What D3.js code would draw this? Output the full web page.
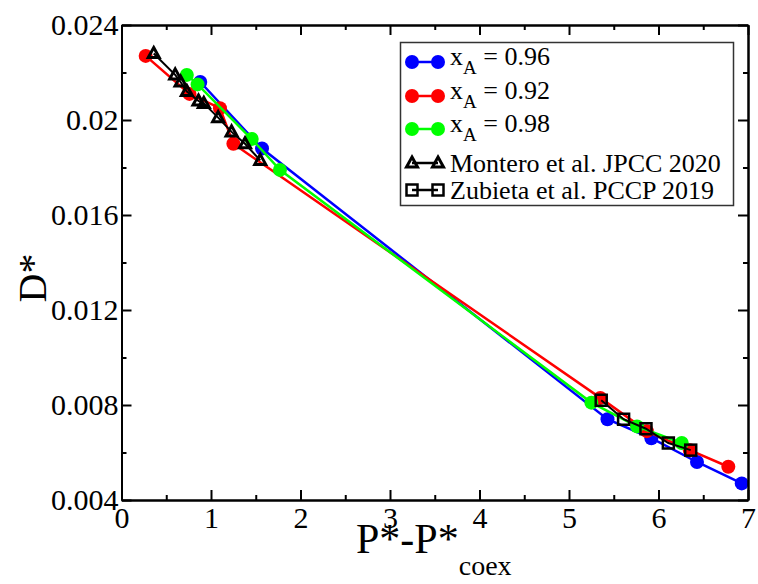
<!DOCTYPE html>
<html>
<head>
<meta charset="utf-8">
<script src="https://cdn.jsdelivr.net/npm/d3@7"></script>
<style>
  body { margin: 0; background: #fff; }
  svg text { font-family: "Liberation Serif", serif; fill: #000; }
</style>
</head>
<body>
<svg class="graphic"></svg>
<script>
// series
var blueX = [0.88, 1.57, 5.43, 5.92, 6.43, 6.93],
    blueY = [0.0216, 0.0188, 0.0074, 0.0066, 0.0056, 0.0047];
var redX = [0.27, 0.76, 1.10, 1.25, 5.35, 5.87, 6.35, 6.78],
    redY = [0.0227, 0.0211, 0.0205, 0.0190, 0.0083, 0.0069, 0.0061, 0.0054];
var greenX = [0.73, 0.85, 1.455, 1.77, 5.25, 5.76, 6.26],
    greenY = [0.0219, 0.0215, 0.0192, 0.0179, 0.0081, 0.0071, 0.0064];
var monteroX = [0.36, 0.60, 0.66, 0.73, 0.86, 0.92, 1.08, 1.23, 1.38, 1.55],
    monteroY = [0.0228, 0.0219, 0.0216, 0.0212, 0.0208, 0.0207, 0.0201, 0.0195, 0.0190, 0.0183];
var zubietaX = [5.36, 5.61, 5.86, 6.11, 6.36],
    zubietaY = [0.0082, 0.0074, 0.0070, 0.0064, 0.0061];

var xTicks = [0, 1, 2, 3, 4, 5, 6, 7],
    yTicks = [0.004, 0.008, 0.012, 0.016, 0.02, 0.024],
    yTickLabels = ["0.004", "0.008", "0.012", "0.016", "0.02", "0.024"];

var legendLabels = [
  {main: "x", sub: "A", rest: " = 0.96"},
  {main: "x", sub: "A", rest: " = 0.92"},
  {main: "x", sub: "A", rest: " = 0.98"},
  {main: "Montero et al. JPCC 2020"},
  {main: "Zubieta et al. PCCP 2019"}
];

var width = 758, height = 584;
var plot = {left: 121.5, right: 748, top: 25, bottom: 500};
var serif = "'Liberation Serif', serif";

var svg = d3.select(".graphic").attr("width", width).attr("height", height);

var x = d3.scaleLinear().domain([0, 7]).range([plot.left, plot.right]);
var y = d3.scaleLinear().domain([0.004, 0.024]).range([plot.bottom, plot.top]);

function pairs(xs, ys) { return xs.map(function(v, i) { return [v, ys[i]]; }); }

var series = [
  {pts: pairs(blueX, blueY), colour: "#0000ff", mark: "circle"},
  {pts: pairs(redX, redY), colour: "#ff0000", mark: "circle"},
  {pts: pairs(greenX, greenY), colour: "#00ff00", mark: "circle"},
  {pts: pairs(monteroX, monteroY), colour: "#000", mark: "triangle"},
  {pts: pairs(zubietaX, zubietaY), colour: "#000", mark: "square"}
];

var line = d3.line().x(function(d) { return x(d[0]); }).y(function(d) { return y(d[1]); });

function drawMark(g, kind, colour) {
  if (kind === "circle") {
    g.append("circle").attr("r", 7).attr("fill", colour);
  } else if (kind === "triangle") {
    g.append("path").attr("d", "M0,-6L5.5,4L-5.5,4Z")
      .attr("fill", "none").attr("stroke", colour).attr("stroke-width", 3).attr("stroke-linejoin", "miter");
  } else {
    g.append("rect").attr("x", -5.5).attr("y", -5.5).attr("width", 11).attr("height", 11)
      .attr("fill", "none").attr("stroke", colour).attr("stroke-width", 2.5);
  }
}

// lines + markers
series.forEach(function(s) {
  svg.append("path").datum(s.pts).attr("d", line)
    .attr("fill", "none").attr("stroke", s.colour).attr("stroke-width", s.mark === "circle" ? 2.5 : 2);
  s.pts.forEach(function(p) {
    var g = svg.append("g").attr("transform", "translate(" + x(p[0]) + "," + y(p[1]) + ")");
    drawMark(g, s.mark, s.colour);
  });
});

// axes, ticks pointing inward on all sides
var xMinor = d3.range(0.5, 7, 1), yMinor = d3.range(0.006, 0.024, 0.004);
function addAxis(axis, tx, ty) {
  var g = svg.append("g").attr("transform", "translate(" + tx + "," + ty + ")").call(axis);
  g.attr("font-family", serif);
  g.selectAll("path.domain").attr("stroke-width", 2);
  g.selectAll(".tick line").attr("stroke-width", 2);
  return g;
}
var bx = addAxis(d3.axisBottom(x).tickValues(xTicks).tickSizeInner(-10).tickSizeOuter(0).tickPadding(6).tickFormat(d3.format("d")), 0, plot.bottom);
addAxis(d3.axisBottom(x).tickValues(xMinor).tickSizeInner(-5).tickSizeOuter(0).tickFormat(""), 0, plot.bottom);
addAxis(d3.axisTop(x).tickValues(xTicks).tickSizeInner(-10).tickSizeOuter(0).tickFormat(""), 0, plot.top);
addAxis(d3.axisTop(x).tickValues(xMinor).tickSizeInner(-5).tickSizeOuter(0).tickFormat(""), 0, plot.top);
var ly = addAxis(d3.axisLeft(y).tickValues(yTicks).tickSizeInner(-10).tickSizeOuter(0).tickPadding(3)
  .tickFormat(function(d, i) { return yTickLabels[i]; }), plot.left, 0);
addAxis(d3.axisLeft(y).tickValues(yMinor).tickSizeInner(-5).tickSizeOuter(0).tickFormat(""), plot.left, 0);
addAxis(d3.axisRight(y).tickValues(yTicks).tickSizeInner(-10).tickSizeOuter(0).tickFormat(""), plot.right, 0);
addAxis(d3.axisRight(y).tickValues(yMinor).tickSizeInner(-5).tickSizeOuter(0).tickFormat(""), plot.right, 0);

bx.selectAll("text").attr("font-size", 30).attr("dy", "0.72em");
ly.selectAll("text").attr("font-size", 30);

// axis titles
var xt = svg.append("text").attr("x", 356).attr("y", 553).attr("font-size", 42).attr("font-family", serif);
xt.append("tspan").text("P*-P*");
xt.append("tspan").attr("font-size", 28).attr("dy", 22).text("coex");

svg.append("text").attr("transform", "translate(46,278) rotate(-90)").attr("font-family", serif)
  .attr("text-anchor", "middle").attr("font-size", 40).text("D*");

// legend
svg.append("rect").attr("x", 400.5).attr("y", 42.5).attr("width", 333).attr("height", 163)
  .attr("fill", "#fff").attr("stroke", "#333").attr("stroke-width", 1.5);
var rowY = [62, 96, 129, 163, 190];
legendLabels.forEach(function(l, i) {
  var s = series[i];
  var g = svg.append("g").attr("transform", "translate(0," + rowY[i] + ")");
  g.append("line").attr("x1", 412).attr("x2", 438).attr("stroke", s.colour).attr("stroke-width", 2.5);
  [412, 438].forEach(function(px) {
    var m = g.append("g").attr("transform", "translate(" + px + ",0)");
    drawMark(m, s.mark, s.colour);
  });
  var t = g.append("text").attr("x", 450).attr("y", l.sub ? 3 : 9).attr("font-size", 26).attr("font-family", serif);
  t.append("tspan").text(l.main);
  if (l.sub) {
    t.append("tspan").attr("font-size", 19).attr("dy", 9).text(l.sub);
    t.append("tspan").attr("dy", -9).text(l.rest);
  }
});
</script>
</body>
</html>
